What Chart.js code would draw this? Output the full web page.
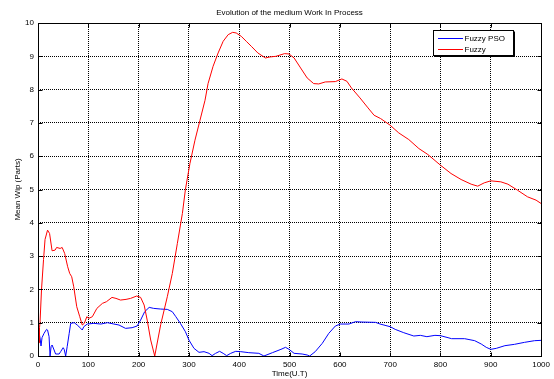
<!DOCTYPE html>
<html>
<head>
<meta charset="utf-8">
<script src="https://cdn.jsdelivr.net/npm/chart.js@4/dist/chart.umd.min.js"></script>
<style>
  html, body { margin: 0; padding: 0; background: #fff; }
  #wrap { width: 554px; height: 379px; }
</style>
</head>
<body>
<div id="wrap"><canvas id="c" width="554" height="379"></canvas></div>
<script>
// Mean work-in-process over time for the two controllers
const chartTitle = 'Evolution of the medium Work In Process';
const xTitle = 'Time(U.T)';
const yTitle = 'Mean Wip (Parts)';
const seriesNames = ['Fuzzy PSO', 'Fuzzy'];

const psoTime = [0, 2, 4, 6, 8, 12, 17, 19, 22, 24, 26, 28, 32, 35, 42, 45, 50, 52, 55, 58, 62, 65, 72, 78, 85, 88, 91, 98,
  111, 125, 138, 151, 161, 174, 187, 197, 204, 212, 221, 230, 244, 257, 267, 274, 283, 293, 300, 310, 320, 330, 340,
  346, 353, 361, 368, 375, 383, 393, 403, 419, 439, 449, 466, 483, 492, 499, 509, 525, 535, 540, 551, 565, 578, 591,
  601, 618, 631, 644, 671, 680, 700, 710, 727, 747, 760, 773, 789, 800, 815, 822, 848, 868, 881, 891, 900, 911, 928,
  947, 967, 987, 1000];
const psoWip = [0.1, 0.7, 0.55, 0.3, 0.55, 0.68, 0.8, 0.78, 0.58, 0.0, 0.28, 0.33, 0.18, 0.06, 0.06, 0.13, 0.25, 0.2, 0.0,
  0.28, 0.68, 0.98, 1.0, 0.93, 0.83, 0.78, 0.88, 0.96, 0.98, 0.96, 1.0, 0.96, 0.93, 0.83, 0.85, 0.9, 1.08, 1.33, 1.46,
  1.43, 1.41, 1.4, 1.33, 1.18, 0.98, 0.73, 0.48, 0.23, 0.11, 0.13, 0.08, 0.01, 0.08, 0.14, 0.08, 0.01, 0.08, 0.14,
  0.13, 0.1, 0.08, 0.0, 0.1, 0.2, 0.26, 0.2, 0.08, 0.06, 0.03, 0.0, 0.13, 0.38, 0.68, 0.9, 0.96, 0.96, 1.03, 1.02,
  1.01, 0.96, 0.88, 0.8, 0.7, 0.6, 0.62, 0.58, 0.62, 0.61, 0.55, 0.52, 0.52, 0.46, 0.36, 0.26, 0.2, 0.23, 0.31, 0.35,
  0.41, 0.46, 0.47];

const fuzzyTime = [0, 1, 2, 3, 4, 7, 11, 14, 19, 23, 28, 34, 37, 44, 48, 53, 59, 63, 67, 71, 77, 83, 88, 92, 97, 101, 108,
  117, 128, 136, 147, 155, 164, 175, 184, 196, 204, 211, 217, 224, 232, 244, 257, 267, 277, 287, 293, 302, 312, 322,
  332, 338, 348, 358, 368, 378, 387, 394, 404, 414, 424, 437, 452, 461, 473, 490, 499, 509, 522, 535, 548, 558, 571,
  591, 604, 614, 623, 640, 656, 668, 681, 700, 717, 737, 757, 775, 800, 821, 841, 861, 874, 887, 900, 920, 934, 953,
  973, 990, 1000];
const fuzzyWip = [0.0, 0.9, 0.4, 0.85, 1.0, 2.0, 2.9, 3.5, 3.78, 3.68, 3.16, 3.18, 3.26, 3.23, 3.26, 3.08, 2.68, 2.48,
  2.38, 2.08, 1.48, 1.18, 0.93, 0.98, 1.18, 1.13, 1.18, 1.43, 1.58, 1.63, 1.76, 1.73, 1.68, 1.70, 1.73, 1.80, 1.76,
  1.53, 1.08, 0.48, 0.0, 0.95, 1.78, 2.48, 3.38, 4.28, 5.0, 5.78, 6.48, 7.08, 7.68, 8.18, 8.7, 9.1, 9.45, 9.65, 9.72,
  9.7, 9.6, 9.45, 9.3, 9.1, 8.95, 8.98, 9.0, 9.08, 9.07, 8.95, 8.65, 8.35, 8.18, 8.17, 8.23, 8.24, 8.32, 8.25, 8.05,
  7.75, 7.45, 7.23, 7.13, 6.93, 6.7, 6.5, 6.23, 6.05, 5.73, 5.48, 5.3, 5.16, 5.1, 5.2, 5.26, 5.23, 5.16, 4.98, 4.78,
  4.68, 4.58];

const xTicks = [0, 100, 200, 300, 400, 500, 600, 700, 800, 900, 1000];
const yTicks = [0, 1, 2, 3, 4, 5, 6, 7, 8, 9, 10];

const FONT = 'Liberation Sans, Arial, Helvetica, sans-serif';
const toPoints = (xs, ys) => xs.map((x, i) => ({ x: x, y: ys[i] }));

// Title centred over the plot, framed axes with inward ticks, and a boxed legend
const framePlugin = {
  id: 'frame',
  afterDraw(chart) {
    const { ctx, chartArea: a, scales } = chart;
    const L = Math.round(a.left) + 0.5, R = Math.round(a.right) + 0.5;
    const T = Math.round(a.top) + 0.5, B = Math.round(a.bottom) + 0.5;
    ctx.save();
    ctx.strokeStyle = '#000';
    ctx.lineWidth = 1;
    ctx.strokeRect(L, T, R - L, B - T);
    const tl = 4;
    ctx.beginPath();
    xTicks.forEach(v => {
      const px = Math.round(scales.x.getPixelForValue(v)) + 0.5;
      ctx.moveTo(px, B); ctx.lineTo(px, B - tl);
      ctx.moveTo(px, T); ctx.lineTo(px, T + tl);
    });
    yTicks.forEach(v => {
      const py = Math.round(scales.y.getPixelForValue(v)) + 0.5;
      ctx.moveTo(L, py); ctx.lineTo(L + tl, py);
      ctx.moveTo(R, py); ctx.lineTo(R - tl, py);
    });
    ctx.stroke();

    // title
    ctx.fillStyle = '#000';
    ctx.font = '8px ' + FONT;
    ctx.textAlign = 'center';
    ctx.textBaseline = 'middle';
    ctx.fillText(chartTitle, (a.left + a.right) / 2, 12.5);

    // legend box
    const bx = 433.5, by = 30.5, bw = 80, bh = 25;
    ctx.fillStyle = '#fff';
    ctx.fillRect(bx, by, bw, bh);
    ctx.strokeStyle = '#000';
    ctx.strokeRect(bx, by, bw, bh);
    ctx.beginPath();
    ctx.moveTo(bx + bw + 1, by + 1); ctx.lineTo(bx + bw + 1, by + bh + 1);
    ctx.lineTo(bx + 1, by + bh + 1);
    ctx.stroke();
    const rows = [38.5, 49.5];
    [0, 1].forEach(i => {
      const ds = chart.data.datasets[i];
      ctx.strokeStyle = ds.borderColor;
      ctx.beginPath();
      ctx.moveTo(438, rows[i]); ctx.lineTo(463, rows[i]);
      ctx.stroke();
      ctx.fillStyle = '#000';
      ctx.textAlign = 'left';
      ctx.fillText(ds.label, 464.5, rows[i] + 0.5);
    });
    ctx.restore();
  }
};

new Chart(document.getElementById('c'), {
  type: 'line',
  data: {
    datasets: [
      { label: seriesNames[0], data: toPoints(psoTime, psoWip), borderColor: '#0000ff',
        borderWidth: 1, pointRadius: 0, tension: 0, order: 1 },
      { label: seriesNames[1], data: toPoints(fuzzyTime, fuzzyWip), borderColor: '#ff0000',
        borderWidth: 1, pointRadius: 0, tension: 0, order: 0 }
    ]
  },
  options: {
    responsive: false,
    animation: false,
    devicePixelRatio: 1,
    layout: { padding: { left: 0, right: 10, top: 23, bottom: 0 } },
    plugins: { legend: { display: false }, tooltip: { enabled: false }, title: { display: false } },
    scales: {
      x: {
        type: 'linear', min: 0, max: 1000,
        afterBuildTicks: s => { s.ticks = xTicks.map(v => ({ value: v })); },
        afterFit: s => { s.height = 23; },
        border: { display: false, dash: [1, 1] },
        grid: { color: '#000', lineWidth: 1, drawTicks: false },
        ticks: { color: '#000', font: { family: FONT, size: 8 }, padding: 4, maxRotation: 0,
                 callback: v => String(v) },
        title: { display: true, text: xTitle, color: '#000', font: { family: FONT, size: 8 },
                 padding: { top: 0, bottom: 0 } }
      },
      y: {
        type: 'linear', min: 0, max: 10,
        afterBuildTicks: s => { s.ticks = yTicks.map(v => ({ value: v })); },
        afterFit: s => { s.width = 38; },
        border: { display: false, dash: [1, 1] },
        grid: { color: '#000', lineWidth: 1, drawTicks: false },
        ticks: { color: '#000', font: { family: FONT, size: 8 }, padding: 4, callback: v => String(v) },
        title: { display: true, text: yTitle, color: '#000', font: { family: FONT, size: 8 },
                 padding: { top: 13, bottom: 0 } }
      }
    }
  },
  plugins: [framePlugin]
});
</script>
</body>
</html>
